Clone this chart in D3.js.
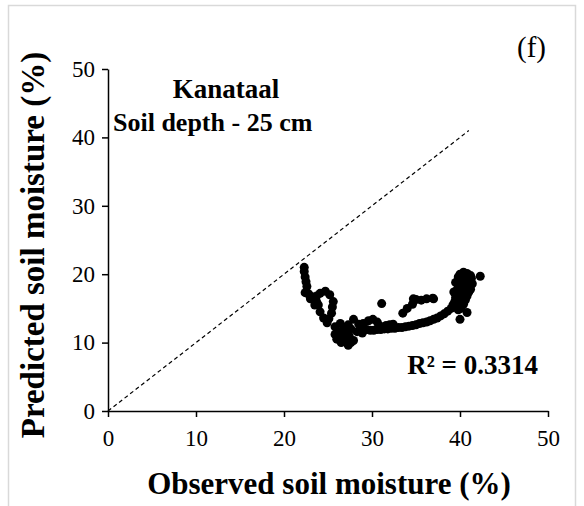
<!DOCTYPE html>
<meta charset="utf-8">
<style>
body { margin: 0; background: #fff; }
svg { font-family: "Liberation Serif", "Times New Roman", serif; }
.axis path, .axis line { stroke: #000; stroke-width: 1.5px; }
</style>
<svg width="584" height="506"></svg>
<script src="https://d3js.org/d3.v7.min.js"></script>
<script>

// observed vs predicted soil moisture (%)
var observed = [
  22.3, 22.3, 22.4, 22.5, 22.6, 22.4, 22.8, 23.0, 23.2, 23.7,
  24.1, 24.7, 25.2, 25.6, 25.5, 25.4, 25.1, 24.9, 24.5, 24.1,
  23.9, 23.5, 23.7, 25.8, 26.2, 26.6, 27.0, 27.3, 27.6, 27.9,
  28.3, 28.5, 27.9, 27.3, 26.8, 25.8, 26.0, 28.9, 26.4, 27.1,
  27.6, 26.5, 27.4,
  29.0, 29.4, 29.8, 30.2, 30.6, 31.0, 31.4, 31.8, 32.2, 32.6,
  33.0, 33.4, 33.8, 34.2, 34.6, 35.0, 35.4, 35.8, 36.2, 36.6,
  37.0, 37.4, 37.8, 38.2, 38.6, 39.0, 29.6, 30.1, 30.6, 29.0,
  31.1, 33.5, 34.0, 34.6, 35.0, 35.6, 36.2, 36.9, 34.7, 37.0,
  39.2, 39.4, 39.5, 39.6, 39.7, 39.8, 39.9, 39.8, 40.0, 40.4,
  40.8, 41.2, 42.3, 40.2, 40.5, 40.7, 40.9, 41.0, 40.8, 40.6,
  40.4, 40.1, 39.8, 40.3, 40.1, 40.4, 40.0, 39.6, 40.6, 41.0,
  39.5, 39.3, 40.2, 40.7, 41.4, 41.3, 41.2, 40.8, 40.0,
  31.6, 32.0, 32.4, 30.8
];
var predicted = [
  21.0, 20.4, 19.6, 18.9, 18.2, 17.3, 17.1, 16.4, 16.7, 16.8,
  17.2, 17.5, 17.0, 16.0, 15.2, 14.3, 13.5, 12.9, 13.6, 14.5,
  15.5, 15.5, 16.0, 12.3, 11.5, 10.8, 10.1, 9.6, 10.0, 10.3,
  11.6, 12.7, 13.4, 12.6, 12.2, 11.2, 10.5, 11.4, 12.8, 11.6,
  12.0, 10.0, 11.0,
  12.1, 11.9, 11.8, 11.8, 11.9, 11.9, 12.0, 12.0, 12.1, 12.1,
  12.2, 12.2, 12.3, 12.4, 12.5, 12.6, 12.8, 12.9, 13.0, 13.2,
  13.4, 13.6, 13.9, 14.2, 14.6, 15.0, 13.2, 13.4, 13.0, 12.8,
  15.7, 14.3, 15.0, 15.6, 16.3, 16.2, 16.4, 16.5, 16.4, 16.4,
  15.5, 16.0, 16.6, 17.2, 17.8, 18.4, 19.0, 19.6, 20.0, 20.3,
  20.1, 19.8, 19.7, 19.4, 19.0, 18.5, 18.0, 17.4, 16.8, 16.2,
  15.6, 15.0, 14.8, 17.0, 17.8, 18.2, 16.2, 15.2, 19.6, 19.2,
  18.8, 17.4, 16.6, 17.6, 18.6, 19.4, 17.8, 14.4, 13.4,
  12.5, 12.6, 12.7, 12.5
];
var ticks = [0, 10, 20, 30, 40, 50];
var oneToOne = [0, 41];

var serif = "'Liberation Serif', 'Times New Roman', serif";
var svg = d3.select("svg");

// light frame round the figure
svg.append("rect")
    .attr("x", 8.5).attr("y", 5.5)
    .attr("width", 567).attr("height", 520)
    .attr("fill", "none")
    .attr("stroke", "#d9d9d9")
    .attr("stroke-width", 1.5);

var x = d3.scaleLinear().domain([0, 50]).range([108, 548]);
var y = d3.scaleLinear().domain([0, 50]).range([411, 69]);

var xAxis = svg.append("g")
    .attr("class", "axis")
    .attr("transform", "translate(0," + y(0) + ")")
    .call(d3.axisBottom(x).tickValues(ticks).tickSize(6).tickSizeOuter(0).tickPadding(13));

var yAxis = svg.append("g")
    .attr("class", "axis")
    .attr("transform", "translate(" + x(0) + ",0)")
    .call(d3.axisLeft(y).tickValues(ticks).tickSize(6).tickSizeOuter(0).tickPadding(7));

svg.selectAll(".axis")
    .attr("font-family", serif)
    .attr("font-size", 23);
svg.selectAll(".axis text")
    .style("font-family", serif)
    .style("font-size", "23px")
    .attr("fill", "#000");

svg.selectAll(".domain").attr("stroke-width", 1.8);

// 1:1 line
svg.append("line")
    .attr("x1", x(oneToOne[0])).attr("y1", y(oneToOne[0]))
    .attr("x2", x(oneToOne[1])).attr("y2", y(oneToOne[1]))
    .attr("stroke", "#000")
    .attr("stroke-width", 1.2)
    .attr("stroke-dasharray", "4,3");

svg.append("g")
  .selectAll("circle")
  .data(observed)
  .enter().append("circle")
    .attr("cx", function(d) { return x(d); })
    .attr("cy", function(d, i) { return y(predicted[i]); })
    .attr("r", 4.5)
    .attr("fill", "#000");

svg.append("text")
    .attr("x", 226).attr("y", 98)
    .attr("text-anchor", "middle")
    .attr("font-weight", "bold")
    .attr("font-size", 27)
    .text("Kanataal");

svg.append("text")
    .attr("x", 113).attr("y", 131)
    .attr("font-weight", "bold")
    .attr("font-size", 26)
    .text("Soil depth - 25 cm");

svg.append("text")
    .attr("x", 546).attr("y", 57)
    .attr("text-anchor", "end")
    .attr("font-size", 29)
    .text("(f)");

svg.append("text")
    .attr("x", 538).attr("y", 374)
    .attr("text-anchor", "end")
    .attr("font-weight", "bold")
    .attr("font-size", 27)
    .text("R² = 0.3314");

svg.append("text")
    .attr("x", 329).attr("y", 494)
    .attr("text-anchor", "middle")
    .attr("font-weight", "bold")
    .attr("font-size", 31)
    .text("Observed soil moisture (%)");

svg.append("text")
    .attr("transform", "translate(44,245) rotate(-90)")
    .attr("text-anchor", "middle")
    .attr("font-weight", "bold")
    .attr("font-size", 33)
    .text("Predicted soil moisture (%)");

</script>
